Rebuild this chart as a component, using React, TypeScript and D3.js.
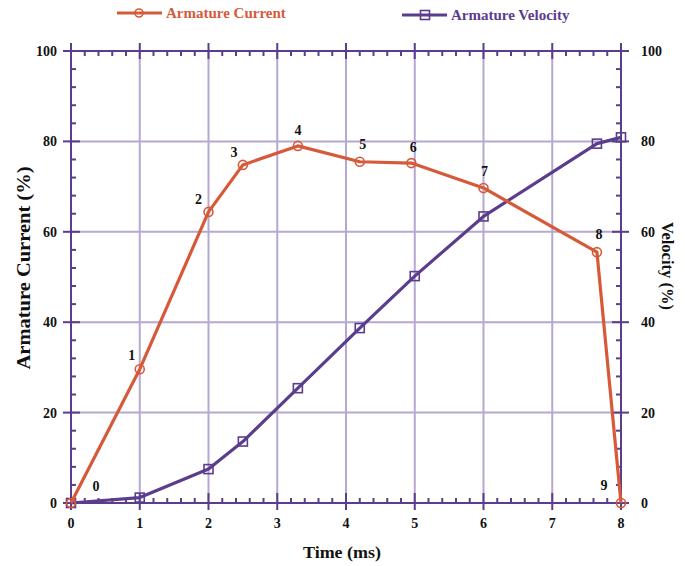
import React from "react";
import * as d3 from "d3";

const timeCurrent = [0, 1, 2, 2.5, 3.3, 4.2, 4.95, 6.0, 7.65, 8];
const currentValues = [0, 29.6, 64.4, 74.8, 79.0, 75.5, 75.2, 69.7, 55.5, 0];
const pointLabels = ["0", "1", "2", "3", "4", "5", "6", "7", "8", "9"];
const timeVelocity = [0, 1, 2, 2.5, 3.3, 4.2, 5, 6, 7.65, 8];
const velocityValues = [0, 1.2, 7.5, 13.6, 25.4, 38.7, 50.2, 63.4, 79.5, 80.9];
const xTicks = [0, 1, 2, 3, 4, 5, 6, 7, 8];
const yTicks = [0, 20, 40, 60, 80, 100];

const labelOffsets: [number, number][] = [
  [25, -12], [-8, -9], [-10, -8], [-9, -8], [0, -11], [3, -13], [2, -11], [1, -12], [2, -13], [-17, -13],
];

const ORANGE = "#d65a3a";
const PURPLE = "#5a3d8c";
const GRID = "#b6a8d0";
const FONT = "'Liberation Serif', 'DejaVu Serif', serif";

export default function App() {
  const W = 685, H = 566;
  const x = d3.scaleLinear().domain([0, 8]).range([71, 621]);
  const y = d3.scaleLinear().domain([0, 100]).range([503, 51]);
  const x0 = x(0), x1 = x(8), y0 = y(0), y1 = y(100);

  const line = d3.line<[number, number]>().x((d) => x(d[0])).y((d) => y(d[1]));
  const curPts: [number, number][] = timeCurrent.map((t, i) => [t, currentValues[i]]);
  const velPts: [number, number][] = timeVelocity.map((t, i) => [t, velocityValues[i]]);

  const xMinor: number[] = [];
  for (let i = 0; i < 8; i++) for (let k = 1; k < 5; k++) xMinor.push(i + k / 5);
  const yMinor: number[] = [];
  for (let i = 0; i < 100; i += 20) for (let k = 1; k < 5; k++) yMinor.push(i + k * 4);

  return (
    <svg width={W} height={H} style={{ position: "absolute", left: 0, top: 0 }}>
      <rect width={W} height={H} fill="#fff" />
      {xTicks.slice(1, -1).map((t) => (
        <line key={"gx" + t} x1={x(t)} x2={x(t)} y1={y0} y2={y1} stroke={GRID} strokeWidth={2} />
      ))}
      {yTicks.slice(1, -1).map((t) => (
        <line key={"gy" + t} x1={x0} x2={x1} y1={y(t)} y2={y(t)} stroke={GRID} strokeWidth={2} />
      ))}
      <g stroke={PURPLE} strokeWidth={2}>
        <line x1={x0} x2={x0} y1={y0} y2={y1} />
        <line x1={x1} x2={x1} y1={y0} y2={y1} />
        <line x1={x0 - 8} x2={x1 + 8} y1={y0} y2={y0} />
        <line x1={x0 - 8} x2={x1 + 8} y1={y1} y2={y1} />
        {xTicks.map((t) => (
          <g key={"xt" + t}>
            <line x1={x(t)} x2={x(t)} y1={y0 - 10} y2={y0 + 7} />
            <line x1={x(t)} x2={x(t)} y1={y1 - 8} y2={y1 + 8} />
          </g>
        ))}
        {xMinor.map((t) => (
          <g key={"xm" + t}>
            <line x1={x(t)} x2={x(t)} y1={y0} y2={y0 - 5} />
            <line x1={x(t)} x2={x(t)} y1={y1} y2={y1 + 5} />
          </g>
        ))}
        {yTicks.map((t) => (
          <g key={"yt" + t}>
            <line x1={x0 - 8} x2={x0 + 9} y1={y(t)} y2={y(t)} />
            <line x1={x1 - 9} x2={x1 + 8} y1={y(t)} y2={y(t)} />
          </g>
        ))}
        {yMinor.map((t) => (
          <g key={"ym" + t}>
            <line x1={x0} x2={x0 + 5} y1={y(t)} y2={y(t)} />
            <line x1={x1} x2={x1 - 5} y1={y(t)} y2={y(t)} />
          </g>
        ))}
      </g>
      <g fontFamily={FONT} fontWeight="bold" fontSize={14} fill="#111">
        {xTicks.map((t) => (
          <text key={"xl" + t} x={x(t)} y={y0 + 25} textAnchor="middle">{t}</text>
        ))}
        {yTicks.map((t) => (
          <text key={"yl" + t} x={x0 - 14} y={y(t) + 5} textAnchor="end">{t}</text>
        ))}
        {yTicks.map((t) => (
          <text key={"yr" + t} x={x1 + 20} y={y(t) + 5} textAnchor="start">{t}</text>
        ))}
      </g>
      <path d={line(velPts) || ""} fill="none" stroke={PURPLE} strokeWidth={3.2} strokeLinejoin="round" />
      {velPts.map((p, i) => (
        <rect key={"vs" + i} x={x(p[0]) - 4.5} y={y(p[1]) - 4.5} width={9} height={9} fill="none" stroke={PURPLE} strokeWidth={1.6} />
      ))}
      <path d={line(curPts) || ""} fill="none" stroke={ORANGE} strokeWidth={3.2} strokeLinejoin="round" />
      {curPts.map((p, i) => (
        <circle key={"cc" + i} cx={x(p[0])} cy={y(p[1])} r={4.5} fill="none" stroke={ORANGE} strokeWidth={1.6} />
      ))}
      <g fontFamily={FONT} fontWeight="bold" fontSize={14} fill="#111" textAnchor="middle">
        {curPts.map((p, i) => (
          <text key={"pl" + i} x={x(p[0]) + labelOffsets[i][0]} y={y(p[1]) + labelOffsets[i][1]}>{pointLabels[i]}</text>
        ))}
      </g>
      <line x1={117} x2={162} y1={13} y2={13} stroke={ORANGE} strokeWidth={3.2} />
      <circle cx={139} cy={13} r={4} fill="none" stroke={ORANGE} strokeWidth={1.6} />
      <text x={166} y={18} fontFamily={FONT} fontWeight="bold" fontSize={15} fill={ORANGE}>Armature Current</text>
      <line x1={402} x2={447} y1={15} y2={15} stroke={PURPLE} strokeWidth={3.2} />
      <rect x={420.5} y={10.5} width={9} height={9} fill="none" stroke={PURPLE} strokeWidth={1.6} />
      <text x={451} y={20} fontFamily={FONT} fontWeight="bold" fontSize={15} fill={PURPLE}>Armature Velocity</text>
      <text x={342} y={558} textAnchor="middle" fontFamily={FONT} fontWeight="bold" fontSize={17.5} fill="#111" textLength={78} lengthAdjust="spacingAndGlyphs">Time (ms)</text>
      <text transform="translate(30,268) rotate(-90)" textAnchor="middle" fontFamily={FONT} fontWeight="bold" fontSize={18} fill="#111" textLength={203} lengthAdjust="spacingAndGlyphs">Armature Current (%)</text>
      <text transform="translate(662,266) rotate(90)" textAnchor="middle" fontFamily={FONT} fontWeight="bold" fontSize={17.5} fill="#111" textLength={88} lengthAdjust="spacingAndGlyphs">Velocity (%)</text>
    </svg>
  );
}
